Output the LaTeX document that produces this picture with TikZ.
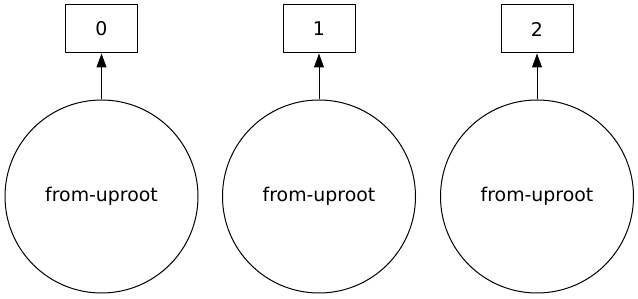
\documentclass[tikz,border=0pt]{standalone}
\usepackage{fontspec}
\setmainfont{DejaVu Sans}
\usetikzlibrary{positioning,arrows.meta}

\begin{document}
\begin{tikzpicture}[x=1pt,y=1pt,
    task/.style={draw,circle,line width=1pt,minimum size=193pt,inner sep=0pt,
                 font=\fontsize{18.9}{20}\selectfont},
    keybox/.style={draw,rectangle,line width=1pt,minimum width=72pt,minimum height=48pt,
                   inner sep=0pt,font=\fontsize{18.9}{20}\selectfont},
    dep/.style={line width=1pt,-{Triangle[length=14pt,width=10pt]}}]
  \useasboundingbox (0,0) rectangle (638,299);
  % one loader per partition, each feeding its key
  \foreach \i/\xx in {0/101.5,1/319,2/537}{
    \node[task] (load\i) at (\xx,102.5) {from-uproot};
    \node[keybox] (key\i) at (\xx,270) {\i};
    \draw[dep] (load\i) -- (key\i);
  }
\end{tikzpicture}
\end{document}
